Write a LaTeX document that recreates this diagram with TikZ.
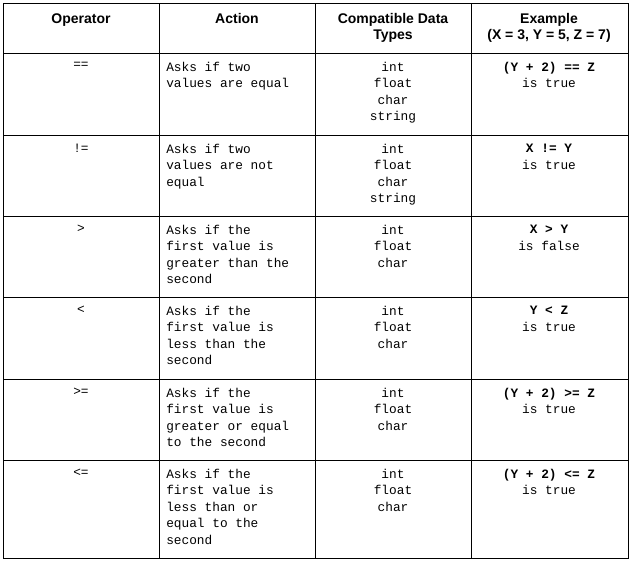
\documentclass[tikz,border=0pt]{standalone}
\usepackage{fontspec}
\setmainfont{Liberation Sans}
\setmonofont{Liberation Mono}
\begin{document}
\begin{tikzpicture}[x=0.75pt,y=-0.75pt,
 hd/.style={anchor=north,align=center,font=\fontsize{10.5}{12}\selectfont\bfseries,inner sep=0pt},
 bodyl/.style={anchor=north west,align=left,font=\fontsize{9.6}{12.3}\selectfont\ttfamily,inner sep=0pt},
 bodyc/.style={anchor=north,align=center,font=\fontsize{9.6}{12.3}\selectfont\ttfamily,inner sep=0pt},
 grid/.style={draw=black,line width=0.75pt}]
\useasboundingbox (0,0) rectangle (632,562);
\fill[white] (0,0) rectangle (632,562);
\draw[grid] (3,3) rectangle (628,558);
\foreach \x in {159,315,471} \draw[grid] (\x,3) -- (\x,558);
\foreach \y in {53,135,216,297,379,460} \draw[grid] (3,\y) -- (628,\y);
\node[hd] (h1) at (81,13) {Operator};
\node[hd] (h2) at (237,13) {Action};
\node[hd] (h3) at (393,13) {Compatible Data\\Types};
\node[hd] (h4) at (549,13) {Example\\(X = 3, Y = 5, Z = 7)};
\foreach \top/\op/\act/\typ/\ex/\res [count=\i] in {
 53/==/{Asks if two\\values are equal}/{int\\float\\char\\string}/{(Y + 2) == Z}/{is true},
 135/!=/{Asks if two\\values are not\\equal}/{int\\float\\char\\string}/{X != Y}/{is true},
 216/>/{Asks if the\\first value is\\greater than the\\second}/{int\\float\\char}/{X > Y}/{is false},
 297/</{Asks if the\\first value is\\less than the\\second}/{int\\float\\char}/{Y < Z}/{is true},
 379/>=/{Asks if the\\first value is\\greater or equal\\to the second}/{int\\float\\char}/{(Y + 2) >= Z}/{is true},
 460/<=/{Asks if the\\first value is\\less than or\\equal to the\\second}/{int\\float\\char}/{(Y + 2) <= Z}/{is true}} {
 \node[bodyc] (op\i) at (81,\top+9) {\op};
 \node[bodyl] (ac\i) at (166,\top+9) {\act};
 \node[bodyc] (ty\i) at (393,\top+9) {\typ};
 \node[bodyc] (ex\i) at (549,\top+9) {\textbf{\ex}\\\res};
}
\end{tikzpicture}
\end{document}
